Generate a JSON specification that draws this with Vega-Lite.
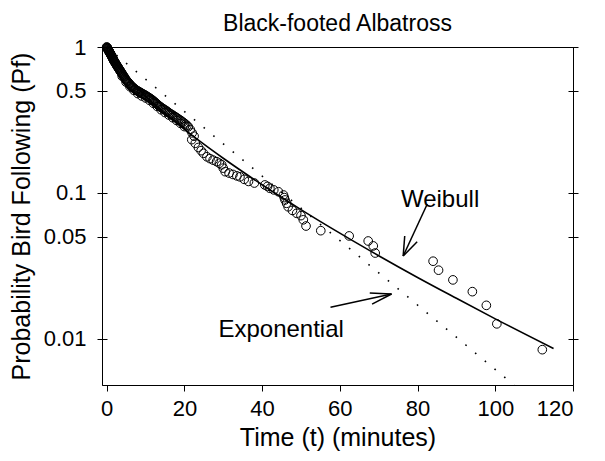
{
  "$schema": "https://vega.github.io/schema/vega-lite/v6.json",
  "width": 471,
  "height": 338,
  "autosize": {"type": "none"},
  "padding": {"left": 102, "top": 47, "right": 32, "bottom": 76},
  "background": "white",
  "config": {
    "view": {"stroke": "black", "strokeWidth": 1},
    "font": "Liberation Sans"
  },
  "title": {"text": "Black-footed Albatross", "fontSize": 23, "fontWeight": "normal", "color": "black", "font": "Liberation Sans", "offset": 0},
  "datasets": {
    "pts": [
      {"t":0,"p":1.0},{"t":0.05,"p":0.995},{"t":0.1,"p":0.99},{"t":0.15,"p":0.985},{"t":0.2,"p":0.98},{"t":0.25,"p":0.975},{"t":0.3,"p":0.97},{"t":0.35,"p":0.962},{"t":0.4,"p":0.955},{"t":0.5,"p":0.945},
      {"t":0.6,"p":0.935},{"t":0.7,"p":0.925},{"t":0.8,"p":0.915},{"t":0.9,"p":0.905},{"t":1.0,"p":0.895},{"t":1.15,"p":0.88},{"t":1.3,"p":0.865},{"t":1.45,"p":0.85},{"t":1.6,"p":0.835},{"t":1.75,"p":0.818},
      {"t":1.9,"p":0.803},{"t":2.1,"p":0.788},{"t":2.3,"p":0.772},{"t":2.5,"p":0.756},{"t":2.7,"p":0.741},{"t":2.9,"p":0.727},{"t":3.1,"p":0.713},{"t":3.3,"p":0.699},{"t":3.5,"p":0.686},{"t":3.7,"p":0.673},
      {"t":3.9,"p":0.66},{"t":4.2,"p":0.642},{"t":4.5,"p":0.624},{"t":4.8,"p":0.606},{"t":5.1,"p":0.59},{"t":5.4,"p":0.578},{"t":5.7,"p":0.565},{"t":6.0,"p":0.553},{"t":6.3,"p":0.542},{"t":6.6,"p":0.532},
      {"t":7.0,"p":0.522},{"t":7.4,"p":0.512},{"t":7.8,"p":0.503},{"t":8.2,"p":0.496},{"t":8.6,"p":0.489},{"t":9.0,"p":0.482},{"t":9.5,"p":0.474},{"t":10.0,"p":0.466},{"t":10.5,"p":0.457},{"t":11.0,"p":0.448},
      {"t":11.5,"p":0.439},{"t":12.0,"p":0.428},{"t":12.5,"p":0.417},{"t":13.0,"p":0.406},{"t":13.5,"p":0.395},{"t":14.0,"p":0.386},{"t":14.6,"p":0.377},{"t":15.2,"p":0.368},{"t":15.8,"p":0.358},{"t":16.4,"p":0.349},
      {"t":17.0,"p":0.341},{"t":17.6,"p":0.333},{"t":18.2,"p":0.325},{"t":18.9,"p":0.316},{"t":19.6,"p":0.306},{"t":20.3,"p":0.296},{"t":21.0,"p":0.284},{"t":21.5,"p":0.272},{"t":22.0,"p":0.258},{"t":22.5,"p":0.245},
      {"t":0.45,"p":0.95},{"t":0.55,"p":0.94},{"t":0.65,"p":0.93},{"t":0.75,"p":0.92},{"t":0.85,"p":0.91},{"t":0.95,"p":0.9},{"t":1.07,"p":0.888},{"t":1.22,"p":0.872},{"t":1.37,"p":0.857},{"t":1.52,"p":0.842},
      {"t":1.67,"p":0.826},{"t":1.82,"p":0.81},{"t":2.0,"p":0.795},{"t":2.2,"p":0.78},{"t":2.4,"p":0.764},{"t":2.6,"p":0.748},{"t":2.8,"p":0.734},{"t":3.0,"p":0.72},{"t":3.2,"p":0.706},{"t":3.4,"p":0.692},
      {"t":3.6,"p":0.68},{"t":3.8,"p":0.666},{"t":4.05,"p":0.651},{"t":4.35,"p":0.633},{"t":4.65,"p":0.615},{"t":4.95,"p":0.598},{"t":5.25,"p":0.584},{"t":5.55,"p":0.571},{"t":5.85,"p":0.559},{"t":6.15,"p":0.547},
      {"t":6.45,"p":0.537},{"t":6.8,"p":0.527},{"t":7.2,"p":0.517},{"t":7.6,"p":0.507},{"t":8.0,"p":0.499},{"t":8.4,"p":0.492},{"t":8.8,"p":0.485},{"t":9.25,"p":0.478},{"t":9.75,"p":0.47},{"t":10.25,"p":0.461},
      {"t":10.75,"p":0.452},{"t":11.25,"p":0.443},{"t":11.75,"p":0.433},{"t":12.25,"p":0.422},{"t":12.75,"p":0.411},{"t":13.25,"p":0.4},{"t":13.75,"p":0.39},{"t":14.3,"p":0.381},{"t":14.9,"p":0.372},{"t":15.5,"p":0.363},
      {"t":16.1,"p":0.353},{"t":16.7,"p":0.345},{"t":17.3,"p":0.337},{"t":17.9,"p":0.329},{"t":18.55,"p":0.32},{"t":19.25,"p":0.311},{"t":19.95,"p":0.301},{"t":20.65,"p":0.29},
      {"t":4,"p":0.63},{"t":5,"p":0.575},{"t":6,"p":0.535},{"t":7,"p":0.505},{"t":8,"p":0.48},{"t":9,"p":0.462},{"t":10,"p":0.448},{"t":11,"p":0.432},{"t":12,"p":0.412},{"t":13,"p":0.392},
      {"t":14,"p":0.372},{"t":15,"p":0.356},{"t":16,"p":0.342},{"t":17,"p":0.328},{"t":18,"p":0.314},{"t":19,"p":0.3},{"t":20,"p":0.285},
      {"t":21.9,"p":0.232},{"t":22.8,"p":0.219},{"t":23.6,"p":0.205},{"t":24.3,"p":0.195},{"t":24.9,"p":0.187},{"t":25.8,"p":0.177},{"t":26.6,"p":0.172},{"t":27.4,"p":0.168},{"t":28.3,"p":0.164},{"t":29.0,"p":0.16},
      {"t":29.6,"p":0.156},{"t":30.0,"p":0.148},{"t":30.5,"p":0.14},{"t":31.5,"p":0.137},{"t":32.5,"p":0.134},{"t":33.5,"p":0.131},{"t":34.3,"p":0.129},{"t":35.4,"p":0.124},{"t":36.5,"p":0.12},{"t":38.0,"p":0.117},
      {"t":40.7,"p":0.1135},{"t":41.4,"p":0.111},{"t":42.0,"p":0.1077},{"t":43.0,"p":0.105},{"t":44.2,"p":0.102},{"t":45.5,"p":0.0969},{"t":45.7,"p":0.093},{"t":45.9,"p":0.0896},{"t":46.3,"p":0.085},{"t":46.7,"p":0.0805},
      {"t":47.8,"p":0.076},{"t":48.9,"p":0.0726},{"t":50.0,"p":0.07},{"t":50.6,"p":0.0655},{"t":51.3,"p":0.0594},{"t":55.1,"p":0.0552},{"t":62.4,"p":0.0508},{"t":67.3,"p":0.0469},{"t":68.6,"p":0.0434},{"t":69.1,"p":0.0388},
      {"t":84.0,"p":0.0341},{"t":85.4,"p":0.0296},{"t":89.1,"p":0.0254},{"t":94.1,"p":0.0211},{"t":97.7,"p":0.017},{"t":100.4,"p":0.0127},{"t":112.1,"p":0.00845}
    ],
    "weib": [
      {"t":0,"p":1},{"t":0.1,"p":0.975},{"t":0.25,"p":0.951},{"t":0.5,"p":0.919},{"t":1,"p":0.869},{"t":2,"p":0.79},{"t":3,"p":0.728},{"t":5,"p":0.629},{"t":7.5,"p":0.534},{"t":10,"p":0.46},
      {"t":15,"p":0.35},{"t":20,"p":0.273},{"t":25,"p":0.216},{"t":30,"p":0.173},{"t":40,"p":0.1139},{"t":50,"p":0.077},{"t":60,"p":0.0531},{"t":70,"p":0.0372},{"t":80,"p":0.0264},{"t":90,"p":0.019},
      {"t":100,"p":0.01374},{"t":115,"p":0.0086}
    ],
    "expo": [
      {"t":0,"p":1},{"t":104.8,"p":0.00484}
    ],
    "arrows": [
      {"t":82.5,"p":0.0841,"t2":76.3,"p2":0.037},
      {"t":79.9,"p":0.0463,"t2":76.3,"p2":0.037},
      {"t":76.7,"p":0.0507,"t2":76.3,"p2":0.037},
      {"t":57.6,"p":0.01648,"t2":73.3,"p2":0.02033},
      {"t":67.7,"p":0.02066,"t2":73.3,"p2":0.02033},
      {"t":68.3,"p":0.01734,"t2":73.3,"p2":0.02033}
    ],
    "labels": [
      {"t":85.8,"p":0.0895,"label":"Weibull"},
      {"t":44.9,"p":0.01153,"label":"Exponential"}
    ]
  },
  "layer": [
    {
      "data": {"name": "pts"},
      "mark": {"type": "point", "shape": "circle", "filled": false, "stroke": "black", "strokeWidth": 1, "size": 75, "opacity": 1},
      "encoding": {
        "x": {"field": "t", "type": "quantitative", "scale": {"domain": [-1.2, 120], "nice": false, "zero": false},
              "axis": {"values": [0,20,40,60,80,100,120], "tickSize": 6, "tickColor": "black", "domainColor": "black", "grid": false, "labelFontSize": 22, "labelColor": "black", "labelPadding": 7, "labelFont": "Liberation Sans", "title": "Time (t) (minutes)", "titleFontSize": 25, "titleFontWeight": "normal", "titleColor": "black", "titlePadding": 6, "titleFont": "Liberation Sans"}},
        "y": {"field": "p", "type": "quantitative", "scale": {"type": "log", "domain": [0.00484, 1], "nice": false},
              "axis": {"orient": "left", "values": [0.01,0.05,0.1,0.5,1], "format": "~g", "offset": -5, "tickSize": 10, "tickColor": "black", "domain": false, "grid": false, "labelFontSize": 22, "labelColor": "black", "labelPadding": 11, "labelFont": "Liberation Sans", "title": "Probability Bird Following (Pf)", "titleFontSize": 25, "titleFontWeight": "normal", "titleColor": "black", "titlePadding": 9, "titleFont": "Liberation Sans"}}
      }
    },
    {
      "data": {"name": "weib"},
      "mark": {"type": "line", "color": "black", "strokeWidth": 1.6, "interpolate": "monotone"},
      "encoding": {
        "x": {"field": "t", "type": "quantitative", "axis": {"title": "Time (t) (minutes)"}},
        "y": {"field": "p", "type": "quantitative",
              "axis": {"orient": "right", "values": [0.01,0.05,0.1,0.5,1], "offset": -5, "tickSize": 10, "tickColor": "black", "domain": false, "grid": false, "labels": false, "title": null}}
      }
    },
    {
      "data": {"name": "expo"},
      "mark": {"type": "line", "color": "black", "strokeWidth": 1.6, "strokeDash": [1.6, 11], "clip": true},
      "encoding": {
        "x": {"field": "t", "type": "quantitative", "axis": {"title": "Time (t) (minutes)"}},
        "y": {"field": "p", "type": "quantitative", "axis": null}
      }
    },
    {
      "data": {"name": "arrows"},
      "mark": {"type": "rule", "color": "black", "strokeWidth": 1.5},
      "encoding": {
        "x": {"field": "t", "type": "quantitative", "axis": {"title": "Time (t) (minutes)"}},
        "x2": {"field": "t2"},
        "y": {"field": "p", "type": "quantitative", "axis": null},
        "y2": {"field": "p2"}
      }
    },
    {
      "data": {"name": "labels"},
      "mark": {"type": "text", "fontSize": 24, "font": "Liberation Sans", "color": "black", "align": "center", "baseline": "middle"},
      "encoding": {
        "x": {"field": "t", "type": "quantitative", "axis": {"title": "Time (t) (minutes)"}},
        "y": {"field": "p", "type": "quantitative", "axis": null},
        "text": {"field": "label"}
      }
    }
  ],
  "resolve": {"axis": {"y": "independent"}}
}
